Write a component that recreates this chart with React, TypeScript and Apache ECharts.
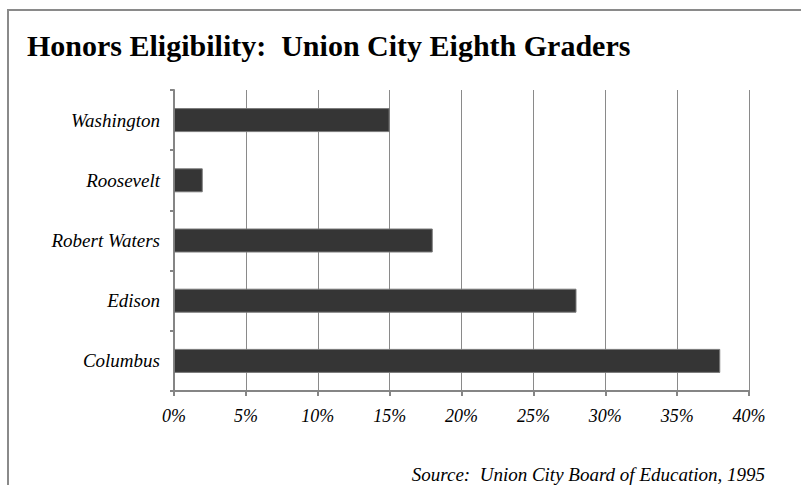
import React, { useEffect, useRef } from "react";
import * as echarts from "echarts";

const schools = ["Washington", "Roosevelt", "Robert Waters", "Edison", "Columbus"];
const eligiblePct = [15, 2, 18, 28, 38];
const xTicks = [0, 5, 10, 15, 20, 25, 30, 35, 40];

const FONT = "'Liberation Serif', 'DejaVu Serif', serif";

export default function App() {
  const ref = useRef<HTMLDivElement>(null);
  useEffect(() => {
    const chart = echarts.init(ref.current!, null, { renderer: "svg" });
    chart.setOption({
      animation: false,
      backgroundColor: "#ffffff",
      title: {
        text: "Honors Eligibility:  Union City Eighth Graders",
        left: 22,
        top: 25,
        textStyle: { fontFamily: FONT, fontWeight: "bold", fontSize: 30, color: "#000" },
      },
      grid: { left: 174, right: 52, top: 90, bottom: 94 },
      xAxis: {
        type: "value",
        min: xTicks[0],
        max: xTicks[xTicks.length - 1],
        interval: 5,
        axisLine: { show: true, lineStyle: { color: "#858585", width: 2 } },
        axisTick: { show: true, length: 5, lineStyle: { color: "#858585", width: 2 } },
        splitLine: { show: true, lineStyle: { color: "#8a8a8a", width: 1 } },
        axisLabel: {
          formatter: (v: number) => v + "%",
          fontFamily: FONT,
          fontStyle: "italic",
          fontSize: 18,
          color: "#000",
          margin: 16,
        },
      },
      yAxis: {
        type: "category",
        data: schools,
        inverse: true,
        axisLine: { show: true, lineStyle: { color: "#858585", width: 2 } },
        axisTick: { show: true, length: 4, lineStyle: { color: "#858585", width: 2 } },
        axisLabel: {
          fontFamily: FONT,
          fontStyle: "italic",
          fontSize: 19,
          color: "#000",
          margin: 14,
        },
      },
      series: [
        {
          type: "bar",
          data: eligiblePct,
          barWidth: 24,
          itemStyle: { color: "#353535", borderColor: "#7a7a7a", borderWidth: 1 },
        },
      ],
      graphic: [
        {
          type: "rect",
          shape: { x: 8, y: 10, width: 900, height: 600 },
          style: { fill: "none", stroke: "#8a8a8a", lineWidth: 2 },
          silent: true,
        },
        {
          type: "text",
          x: 765,
          y: 474,
          style: {
            text: "Source:  Union City Board of Education, 1995",
            fontFamily: FONT,
            fontStyle: "italic",
            fontSize: 19,
            fill: "#000",
            align: "right",
            verticalAlign: "middle",
          },
        },
      ],
    });
    return () => chart.dispose();
  }, []);
  return (
    <div
      ref={ref}
      style={{ position: "fixed", left: 0, top: 0, width: 801, height: 485 }}
    />
  );
}
